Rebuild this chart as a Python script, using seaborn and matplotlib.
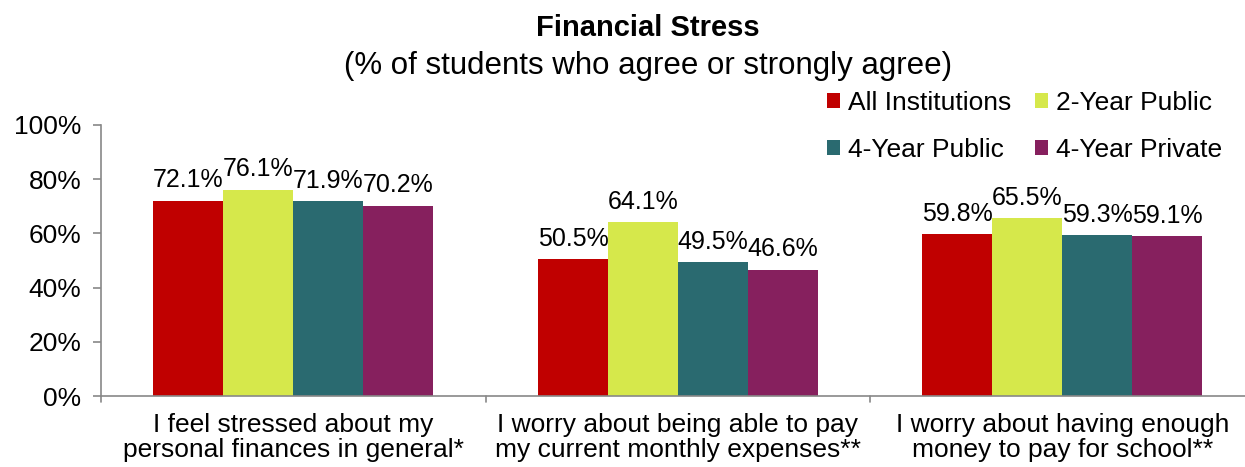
import matplotlib
matplotlib.use("Agg")
import matplotlib.pyplot as plt
import seaborn as sns
import pandas as pd

categories = ["I feel stressed about my\npersonal finances in general*",
              "I worry about being able to pay\nmy current monthly expenses**",
              "I worry about having enough\nmoney to pay for school**"]
series = ["All Institutions", "2-Year Public", "4-Year Public", "4-Year Private"]
all_inst = [72.1, 50.5, 59.8]
two_year_public = [76.1, 64.1, 65.5]
four_year_public = [71.9, 49.5, 59.3]
four_year_private = [70.2, 46.6, 59.1]
colors = ["#C00000", "#D6E84B", "#2A6A70", "#86205E"]

sns.set_style("white")
plt.rcParams['font.family'] = ['Liberation Sans', 'DejaVu Sans']
plt.rcParams['text.color'] = 'black'
plt.rcParams['xtick.color'] = 'black'
plt.rcParams['ytick.color'] = 'black'

rows = []
for s, vals in zip(series, [all_inst, two_year_public, four_year_public, four_year_private]):
    for c, v in zip(categories, vals):
        rows.append({"cat": c, "series": s, "val": v})
df = pd.DataFrame(rows)

fig = plt.figure(figsize=(12.45, 4.67), dpi=100)
ax = fig.add_axes([101/1245, 1-396/467, (1254.5-101)/1245, 271/467])
sns.barplot(data=df, x="cat", y="val", hue="series", palette=colors,
            hue_order=series, order=categories, width=0.727, ax=ax,
            saturation=1, errorbar=None, legend=False, linewidth=0)
ax.set_xlim(-0.5, 2.5)
ax.set_ylim(0, 100)
ax.set_yticks([0, 20, 40, 60, 80, 100])
ax.set_yticklabels([f"{t}%" for t in [0, 20, 40, 60, 80, 100]], fontsize=19)
ax.set_xticks([0, 1, 2])
ax.set_xticklabels(categories, fontsize=19, linespacing=1.08)
ax.tick_params(axis='x', length=0, pad=12)
ax.tick_params(axis='y', length=6, color='#888888', width=1.2, left=True, pad=8)
for t in [-0.5, 0.5, 1.5, 2.5]:
    ax.plot([t, t], [0, -2.2], color='#888888', lw=1.2, clip_on=False)
ax.set_xlabel("")
ax.set_ylabel("")
for side in ["top", "right"]:
    ax.spines[side].set_visible(False)
for side in ["left", "bottom"]:
    ax.spines[side].set_color('#888888')
    ax.spines[side].set_linewidth(1.2)

for cont in ax.containers:
    ax.bar_label(cont, labels=[f"{v:.1f}%" for v in cont.datavalues],
                 fontsize=18, padding=6, color='black')

from matplotlib.patches import Patch
handles = [Patch(facecolor=c, edgecolor='none') for c in colors]
order = [0, 2, 1, 3]
fig.legend([handles[i] for i in order], [series[i] for i in order],
           loc='upper left', bbox_to_anchor=(816/1245, 1-80/467),
           ncol=2, frameon=False, fontsize=19, handlelength=0.5, handleheight=0.5,
           handletextpad=0.3, columnspacing=0.9, labelspacing=0.9, borderaxespad=0)

fig.text(648/1245, 1-28/467, "Financial Stress", ha='center', va='center',
         fontsize=21, fontweight='bold')
fig.text(648/1245, 1-66/467, "(% of students who agree or strongly agree)",
         ha='center', va='center', fontsize=22.5)

fig.savefig("out.png", dpi=100)
